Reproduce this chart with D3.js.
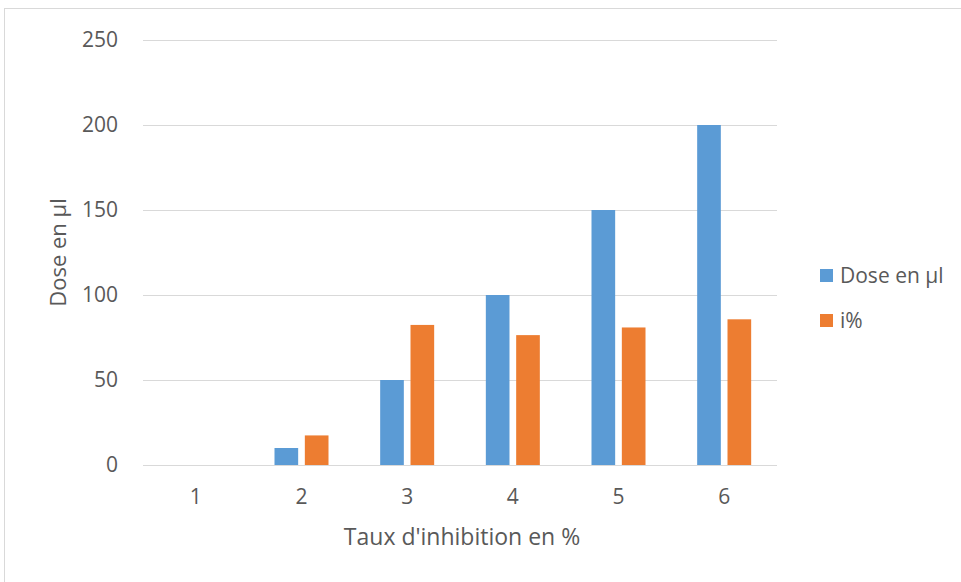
<!DOCTYPE html>
<html>
<head>
<meta charset="utf-8">
<script src="https://cdn.jsdelivr.net/npm/d3@7"></script>
<style>
  html, body { margin: 0; padding: 0; background: #fff; }
  svg { display: block; }
  text { font-family: "Open Sans", Lato, sans-serif; fill: #595959; }
</style>
</head>
<body>
<svg id="chart" width="961" height="582"></svg>
<script>
const categories = ["1", "2", "3", "4", "5", "6"];
const seriesNames = ["Dose en µl", "i%"];
const doseValues = [0, 10, 50, 100, 150, 200];
const inhibitionValues = [0, 17.4, 82.4, 76.4, 80.9, 85.7];
const yTicks = [0, 50, 100, 150, 200, 250];
const colors = ["#5B9BD5", "#ED7D31"];
const xTitle = "Taux d'inhibition en %";
const yTitle = "Dose en µl";

const svg = d3.select("#chart");
const W = 961, H = 582;
const plot = { left: 143, right: 777, top: 40, bottom: 465 };
const FONT = "'Open Sans', Lato, sans-serif";

// chart border
svg.append("rect")
  .attr("x", 4.5).attr("y", 8.5)
  .attr("width", W).attr("height", H)
  .attr("fill", "none").attr("stroke", "#d9d9d9").attr("stroke-width", 1);

const x = d3.scaleBand().domain(categories).range([plot.left, plot.right]).padding(0);
const groupW = 54;
const x1 = d3.scaleBand().domain(seriesNames)
  .range([x.bandwidth() / 2 - groupW / 2, x.bandwidth() / 2 + groupW / 2])
  .paddingInner(0.22).paddingOuter(0);
const y = d3.scaleLinear().domain([0, 250]).range([plot.bottom, plot.top]);

// gridlines
svg.append("g").selectAll("line").data(yTicks).join("line")
  .attr("x1", plot.left).attr("x2", plot.right)
  .attr("y1", d => Math.round(y(d)) + 0.5).attr("y2", d => Math.round(y(d)) + 0.5)
  .attr("stroke", "#d9d9d9").attr("stroke-width", 1);

// y axis labels
const yAxis = d3.axisLeft(y).tickValues(yTicks).tickSize(0).tickPadding(0);
const gy = svg.append("g").attr("transform", `translate(118,0)`).call(yAxis);
gy.select(".domain").remove();
gy.selectAll("text").style("font-size", "21px").attr("fill", "#595959")
  .style("font-family", FONT);

// x axis labels
const xAxis = d3.axisBottom(x).tickSize(0).tickPadding(0);
const gx = svg.append("g").attr("transform", `translate(0,${plot.bottom + 24})`).call(xAxis);
gx.select(".domain").remove();
gx.selectAll("text").style("font-size", "21px").attr("fill", "#595959")
  .style("font-family", FONT);

// bars
const seriesData = [doseValues, inhibitionValues];
const groups = svg.append("g").selectAll("g").data(categories).join("g")
  .attr("transform", d => `translate(${x(d)},0)`);
groups.selectAll("rect")
  .data((c, i) => seriesNames.map((s, k) => ({ s, k, v: seriesData[k][i] })))
  .join("rect")
  .attr("x", d => x1(d.s))
  .attr("width", x1.bandwidth())
  .attr("y", d => y(d.v))
  .attr("height", d => y(0) - y(d.v))
  .attr("fill", d => colors[d.k]);

// axis titles
svg.append("text")
  .attr("x", 462).attr("y", 545)
  .attr("text-anchor", "middle")
  .style("font-size", "23px")
  .text(xTitle);

svg.append("text")
  .attr("transform", `translate(66,${(plot.top + plot.bottom) / 2}) rotate(-90)`)
  .attr("text-anchor", "middle")
  .style("font-size", "22px")
  .text(yTitle);

// legend
const legendY = [275, 320];
const lg = svg.append("g").selectAll("g").data(seriesNames).join("g")
  .attr("transform", (d, i) => `translate(820,${legendY[i]})`);
lg.append("rect").attr("x", 0).attr("y", -6).attr("width", 13).attr("height", 13)
  .attr("fill", (d, i) => colors[i]);
lg.append("text").attr("x", 20).attr("y", 0.5).attr("dy", "0.35em")
  .style("font-size", "21px").text(d => d);
</script>
</body>
</html>
